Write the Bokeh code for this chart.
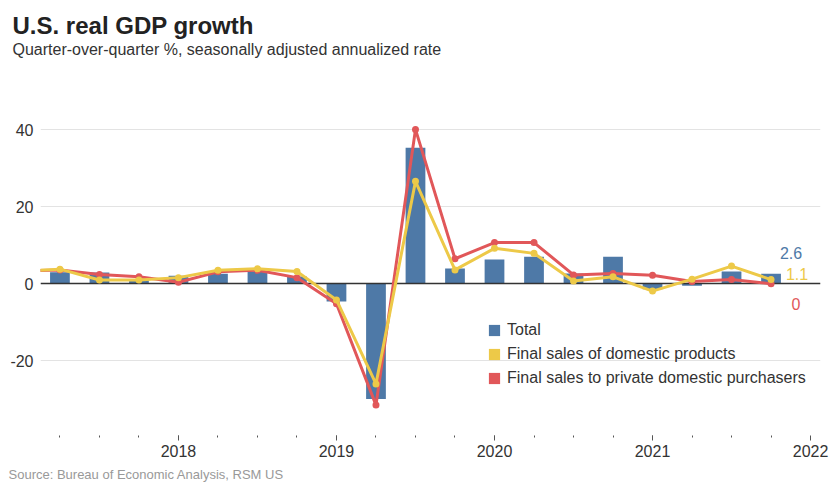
from bokeh.plotting import figure
from bokeh.models import (ColumnDataSource, FixedTicker, Label, Legend, LegendItem,
                          Range1d, BasicTickFormatter, Title)
from bokeh.embed import file_html
from bokeh.resources import INLINE

# Quarter positions along the time axis (one major tick per year)
bar_quarters = [2017.25, 2017.5, 2017.75, 2018.0, 2018.25, 2018.5, 2018.75,
                2019.0, 2019.25, 2019.5, 2019.75, 2020.0, 2020.25, 2020.5,
                2020.75, 2021.0, 2021.25, 2021.5, 2021.75]
line_quarters = [2017.0] + bar_quarters

# Real GDP growth, quarter-over-quarter %, SAAR
total = [3.0, 2.9, 0.9, 2.1, 2.6, 3.2, 1.9, -4.6, -29.9, 35.3,
         4.0, 6.3, 7.0, 2.7, 7.0, -1.4, -0.5, 3.2, 2.6]
domestic_products = [3.3, 3.8, 1.0, 1.0, 1.6, 3.5, 3.9, 3.2, -4.2, -26.0, 26.6,
                     3.6, 9.2, 7.9, 0.7, 1.8, -1.9, 1.2, 4.6, 1.1]
private_purchasers = [3.3, 3.6, 2.4, 1.8, 0.4, 3.1, 3.5, 1.6, -5.2, -31.5, 40.1,
                      6.5, 10.7, 10.7, 2.3, 2.7, 2.2, 0.6, 1.1, 0.0]

year_ticks = [2018, 2019, 2020, 2021, 2022]
y_ticks = [-20, 0, 20, 40]
y_tick_labels = {-20: "-20", 0: "0", 20: "20", 40: "40"}

series_names = ["Total", "Final sales of domestic products",
                "Final sales to private domestic purchasers"]

BLUE, YELLOW, RED = "#4e79a7", "#edc948", "#e15759"
FONT = "Liberation Sans"
INK = "#333333"

main_title = Title(text="U.S. real GDP growth", align="left", offset=-28, standoff=0,
                   text_font=FONT, text_font_size="24px", text_font_style="bold",
                   text_color="#222222")

p = figure(width=829, height=489, title=main_title,
           x_range=Range1d(2017.127, 2022.063), y_range=Range1d(-39.4, 47.6),
           output_backend="svg", toolbar_location=None,
           min_border_left=40, min_border_right=9,
           min_border_top=100, min_border_bottom=54)
p.outline_line_color = None
p.background_fill_color = "white"
p.border_fill_color = "white"

# blank gap between the subtitle and the plotting area (closest to the frame)
p.add_layout(Title(text=" ", standoff=30, text_font=FONT, text_font_size="10px"),
             "above")
p.add_layout(Title(text="Quarter-over-quarter %, seasonally adjusted annualized rate",
                   align="left", offset=-28, standoff=0, text_font=FONT,
                   text_font_size="16px", text_font_style="normal", text_color=INK),
             "above")

# axes
p.xaxis.ticker = FixedTicker(ticks=year_ticks, minor_ticks=line_quarters)
p.xaxis.formatter = BasicTickFormatter(use_scientific=False)
p.xaxis.axis_line_color = None
p.xaxis.major_tick_in = 0
p.xaxis.major_tick_out = 5
p.xaxis.minor_tick_in = 0
p.xaxis.minor_tick_out = 2
p.xaxis.major_tick_line_color = "#555555"
p.xaxis.minor_tick_line_color = "#555555"
p.xaxis.major_label_standoff = 4

p.yaxis.ticker = FixedTicker(ticks=y_ticks)
p.yaxis.major_label_overrides = y_tick_labels
p.yaxis.axis_line_color = None
p.yaxis.major_tick_line_color = None
p.yaxis.minor_tick_line_color = None
p.yaxis.major_tick_out = 0
p.yaxis.major_label_standoff = 7

for ax in (p.xaxis, p.yaxis):
    ax.major_label_text_font = FONT
    ax.major_label_text_font_size = "16px"
    ax.major_label_text_color = INK

p.xgrid.visible = False
p.ygrid.ticker = FixedTicker(ticks=y_ticks)
p.ygrid.grid_line_color = "#e3e3e3"
p.ygrid.grid_line_width = 1

# bars
bar_src = ColumnDataSource(dict(x=bar_quarters, total=total))
bars = p.vbar(x="x", top="total", width=0.125, source=bar_src,
              fill_color=BLUE, line_color=None)

# zero baseline
p.hspan(y=[0], line_color="#333333", line_width=1.5)

# lines with markers
line_src = ColumnDataSource(dict(x=line_quarters, dom=domestic_products,
                                 priv=private_purchasers))
p.line("x", "priv", source=line_src, line_color=RED, line_width=3)
p.scatter("x", "priv", source=line_src, size=7, fill_color=RED, line_color=None)
p.line("x", "dom", source=line_src, line_color=YELLOW, line_width=3)
p.scatter("x", "dom", source=line_src, size=7, fill_color=YELLOW, line_color=None)

# square swatches for the legend (no visible bars of their own)
nan = float("nan")
sw_y = p.vbar(x=[nan], top=[nan], width=0.1, fill_color=YELLOW, line_color=None)
sw_r = p.vbar(x=[nan], top=[nan], width=0.1, fill_color=RED, line_color=None)

legend = Legend(items=[LegendItem(label=series_names[0], renderers=[bars]),
                       LegendItem(label=series_names[1], renderers=[sw_y]),
                       LegendItem(label=series_names[2], renderers=[sw_r])],
                location=(447, 48), glyph_width=14, glyph_height=14,
                label_height=14, spacing=6, padding=0, margin=0,
                label_standoff=6, label_text_font=FONT,
                label_text_font_size="16px", label_text_color=INK,
                border_line_color=None, background_fill_alpha=0)
p.add_layout(legend)

# end-of-series value labels
last_x = bar_quarters[-1]
for val, col, dx, dy in [(total[-1], BLUE, 20, 21),
                         (domestic_products[-1], YELLOW, 26, 6),
                         (private_purchasers[-1], RED, 25, -20)]:
    p.add_layout(Label(x=last_x, y=val, text=f"{val:g}", x_offset=dx, y_offset=dy,
                       text_align="center", text_baseline="middle",
                       text_font=FONT, text_font_size="16px", text_color=col))

# source note
p.add_layout(Title(text="Source: Bureau of Economic Analysis, RSM US", align="left",
                   offset=-32, standoff=10, text_font=FONT, text_font_size="13px",
                   text_font_style="normal", text_color="#999999"), "below")

open("out.html", "w").write(file_html(p, INLINE))
